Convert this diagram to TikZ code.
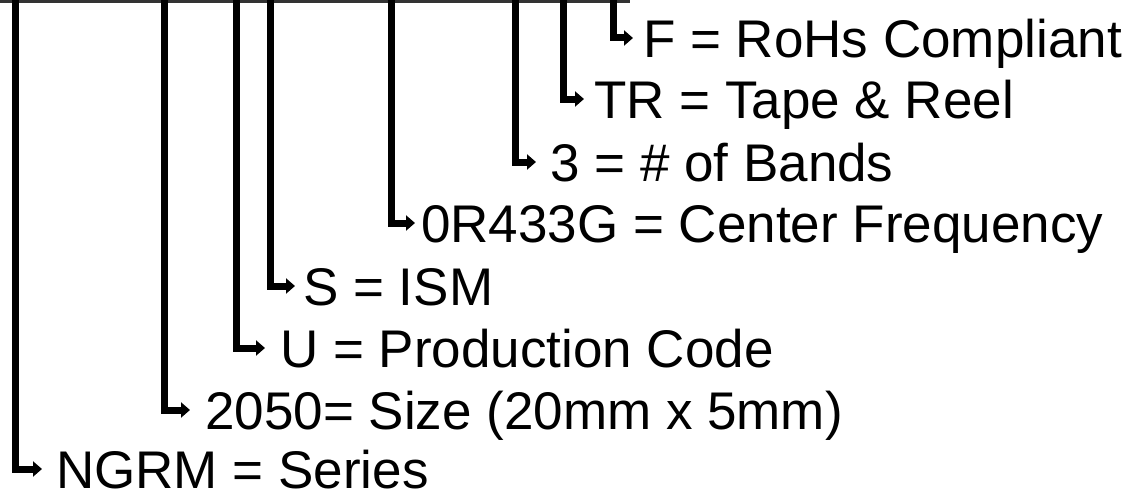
\documentclass[tikz,border=0pt]{standalone}
\usepackage{fontspec}
\setmainfont{Liberation Sans}
\usetikzlibrary{arrows.meta}

\tikzset{
  field/.style={anchor=west, inner sep=0pt, text height=38pt, text depth=0pt,
    font=\fontsize{53}{60}\selectfont},
  lead/.style={line width=7pt, -{Triangle[length=9pt,width=15pt]}},
  bus/.style={line width=3pt, black!80},
}

\begin{document}
\begin{tikzpicture}[x=1pt,y=-1pt]
        \useasboundingbox (0,0) rectangle (1145,495);
        % part number bus
        \coordinate (busL) at (0,1.5);
        \coordinate (busR) at (630,1.5);
        % taps
        \coordinate (tF) at (613,0);
        \coordinate (tTR) at (563,0);
        \coordinate (tB) at (515,0);
        \coordinate (tFq) at (391,0);
        \coordinate (tS) at (270,0);
        \coordinate (tU) at (236,0);
        \coordinate (tSz) at (164,0);
        \coordinate (tN) at (15,0);
        % fields
        \node[field] (f) at (643,38) {F = RoHs Compliant};
        \node[field] (tr) at (594,99) {TR = Tape \& Reel};
        \node[field] (bands) at (550,162) {3 = \# of Bands};
        \node[field] (freq) at (421,223) {0R433G = Center Frequency};
        \node[field] (ism) at (303,286) {S = ISM};
        \node[field] (prod) at (280,348) {U = Production Code};
        \node[field] (size) at (205,410) {2050= Size (20mm x 5mm)};
        \node[field] (series) at (56,469) {NGRM = Series};
        \draw[bus] (busL) -- (busR);
        \draw[lead, shorten >=10pt] (tF) |- (f.west);
        \draw[lead, shorten >=10pt] (tTR) |- (tr.west);
        \draw[lead, shorten >=14pt] (tB) |- (bands.west);
        \draw[lead, shorten >=6pt] (tFq) |- (freq.west);
        \draw[lead, shorten >=8pt] (tS) |- (ism.west);
        \draw[lead, shorten >=15pt] (tU) |- (prod.west);
        \draw[lead, shorten >=15pt] (tSz) |- (size.west);
        \draw[lead, shorten >=14pt] (tN) |- (series.west);
\end{tikzpicture}
\end{document}
